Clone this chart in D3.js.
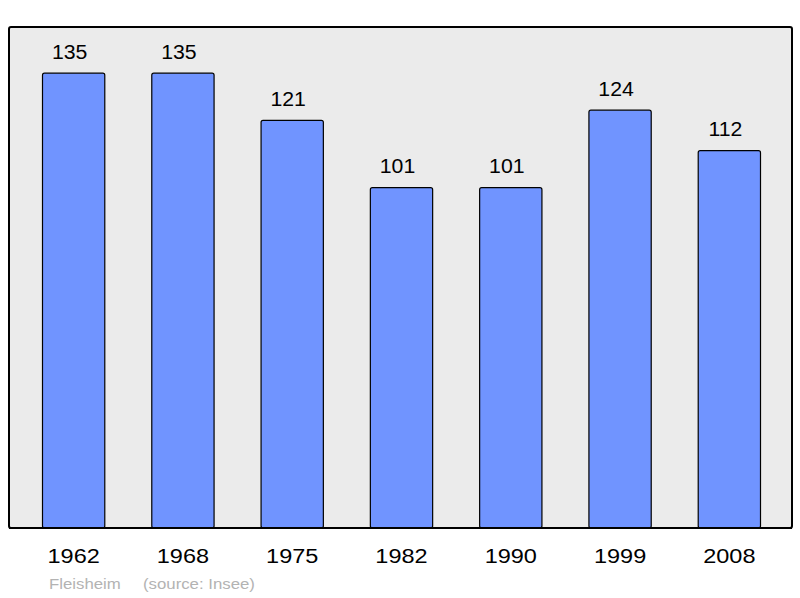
<!DOCTYPE html>
<html><head><meta charset="utf-8">
<script src="https://cdn.jsdelivr.net/npm/d3@7"></script>
<style>body{margin:0;background:#fff}svg{display:block}</style>
</head><body>
<script>
const years = ["1962","1968","1975","1982","1990","1999","2008"];
const population = [135,135,121,101,101,124,112];
const commune = "Fleisheim";
const source = "(source: Insee)";

const W = 800, H = 598;
const FONT = "Liberation Sans, Arial, sans-serif";
const svg = d3.select("body").append("svg").attr("width", W).attr("height", H);
const frame = {x0: 9, y0: 27, x1: 792, y1: 528};

const x = d3.scaleBand().domain(years).range([19, 784]).paddingInner(0.43).paddingOuter(0.215);
const y = d3.scaleLinear().domain([0, 148.7]).range([frame.y1, frame.y0]);

svg.append("rect").attr("x", frame.x0).attr("y", frame.y0)
  .attr("width", frame.x1 - frame.x0).attr("height", frame.y1 - frame.y0)
  .attr("rx", 2).attr("fill", "#ebebeb").attr("stroke", "#000").attr("stroke-width", 2);

const data = years.map((yr, i) => ({yr, v: population[i]}));

svg.selectAll("rect.bar").data(data).enter().append("rect").attr("class", "bar")
  .attr("x", d => x(d.yr)).attr("y", d => y(d.v))
  .attr("width", x.bandwidth()).attr("height", d => y(0) - y(d.v))
  .attr("rx", 2).attr("fill", "#7094ff").attr("stroke", "#000").attr("stroke-width", 1.2);

svg.append("line").attr("x1", frame.x0).attr("x2", frame.x1).attr("y1", frame.y1).attr("y2", frame.y1)
  .attr("stroke", "#000").attr("stroke-width", 2);

svg.selectAll("text.val").data(data).enter().append("text").attr("class", "val")
  .attr("transform", d => `translate(${x(d.yr) + x.bandwidth() / 2 - 4},${y(d.v) - 14.5}) scale(1.09,1)`)
  .attr("text-anchor", "middle").attr("font-family", FONT)
  .attr("font-size", 19.5).attr("fill", "#000").text(d => d.v);

const xAxis = d3.axisBottom(x).tickSize(0).tickPadding(0);
const gx = svg.append("g").attr("transform", `translate(0,${frame.y1 + 35})`).call(xAxis);
gx.select(".domain").remove();
gx.selectAll("text").attr("font-family", FONT)
  .attr("font-size", 21).attr("fill", "#000").attr("dy", 0)
  .attr("transform", "scale(1.12,1)")
  .attr("x", 0);
gx.selectAll(".tick").each(function() {
  const t = d3.select(this).select("text");
  t.attr("transform", "scale(1.12,1)");
});

svg.append("text").attr("transform", "translate(49,589) scale(1.12,1)").attr("font-family", FONT)
  .attr("font-size", 15).attr("fill", "#b3b3b3").text(commune);
svg.append("text").attr("transform", "translate(143,589) scale(1.12,1)").attr("font-family", FONT)
  .attr("font-size", 15).attr("fill", "#b3b3b3").text(source);
</script>
</body></html>
